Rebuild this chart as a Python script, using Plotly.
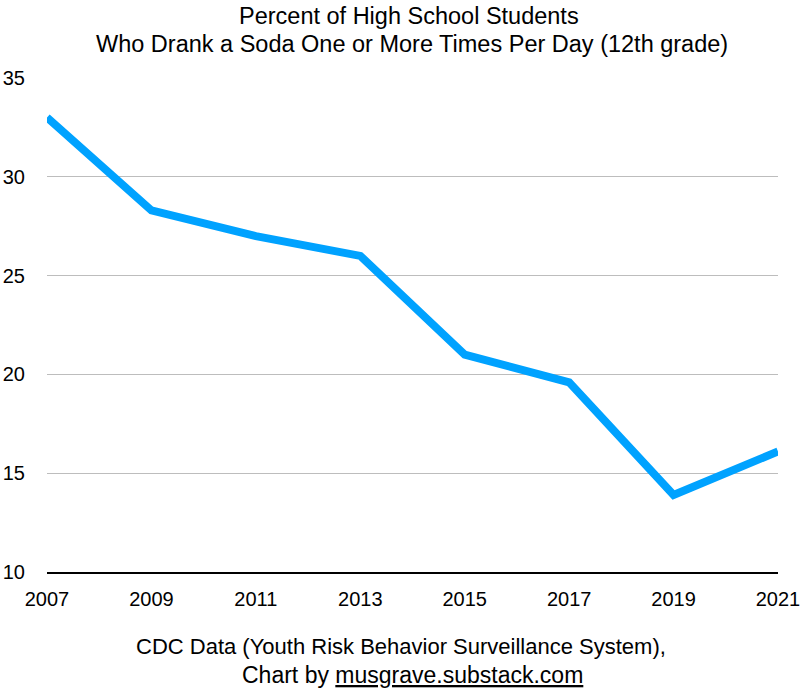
import plotly.graph_objects as go

years = [2007, 2009, 2011, 2013, 2015, 2017, 2019, 2021]
percent = [33.0, 28.3, 27.0, 26.0, 21.0, 19.6, 13.9, 16.1]
y_ticks = [10, 15, 20, 25, 30, 35]

title_line1 = "Percent of High School Students"
title_line2 = "Who Drank a Soda One or More Times Per Day (12th grade)"
footer1 = "CDC Data (Youth Risk Behavior Surveillance System),"
footer2 = "Chart by <u>musgrave.substack.com</u>"

FONT = "Liberation Sans, Arial, Helvetica, sans-serif"

fig = go.Figure()
fig.add_trace(go.Scatter(
    x=years, y=percent, mode="lines",
    line=dict(color="rgb(0,162,255)", width=8),
    hoverinfo="skip",
))

fig.update_layout(
    width=802, height=698,
    margin=dict(l=47, r=24, t=78, b=126),
    paper_bgcolor="white", plot_bgcolor="white",
    showlegend=False,
    font=dict(family=FONT, size=20, color="black"),
    xaxis=dict(
        range=[2007, 2021], tickvals=years, ticktext=[str(y) for y in years],
        showgrid=False, zeroline=False, automargin=False,
        showline=True, linecolor="black", linewidth=2,
        ticks="", ticklabelstandoff=8,
        tickfont=dict(size=20),
    ),
    yaxis=dict(
        range=[10, 35], tickvals=y_ticks,
        showgrid=True, gridcolor="#bdbdbd", gridwidth=1,
        zeroline=False, showline=False, ticks="", automargin=False,
        ticklabelstandoff=21,
        tickfont=dict(size=20),
    ),
)

def ann(text, x_px, y_px, size):
    fig.add_annotation(
        text=text, xref="paper", yref="paper",
        x=(x_px - 47) / (802 - 47 - 24), y=(698 - 126 - y_px) / (698 - 78 - 126),
        xanchor="center", yanchor="middle", showarrow=False,
        font=dict(size=size, family=FONT),
    )

ann(title_line1, 408.5, 16, 23.5)
ann(title_line2, 412, 44, 23.5)
ann(footer1, 401, 646, 22)
ann(footer2, 412, 675, 23)

fig.write_html(
    "out.html",
    config={"displayModeBar": False},
    post_script="document.body.style.margin='0';document.body.style.overflow='hidden';",
)
